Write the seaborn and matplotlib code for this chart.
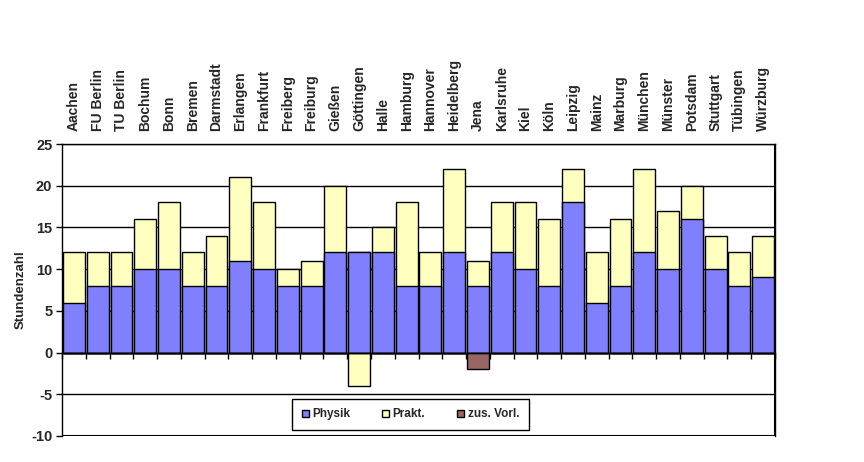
import pandas as pd
import matplotlib.pyplot as plt
import seaborn as sns
from matplotlib.patches import Patch

# data
unis = ["Aachen", "FU Berlin", "TU Berlin", "Bochum", "Bonn", "Bremen", "Darmstadt",
        "Erlangen", "Frankfurt", "Freiberg", "Freiburg", "Gießen", "Göttingen", "Halle",
        "Hamburg", "Hannover", "Heidelberg", "Jena", "Karlsruhe", "Kiel", "Köln",
        "Leipzig", "Mainz", "Marburg", "München", "Münster", "Potsdam", "Stuttgart",
        "Tübingen", "Würzburg"]
physik = [6, 8, 8, 10, 10, 8, 8, 11, 10, 8, 8, 12, 12, 12, 8, 8, 12, 8, 12, 10, 8,
          18, 6, 8, 12, 10, 16, 10, 8, 9]
prakt = [6, 4, 4, 6, 8, 4, 6, 10, 8, 2, 3, 8, -4, 3, 10, 4, 10, 3, 6, 8, 8,
         4, 6, 8, 10, 7, 4, 4, 4, 5]
zus_vorl = [0, 0, 0, 0, 0, 0, 0, 0, 0, 0, 0, 0, 0, 0, 0, 0, 0, -2, 0, 0, 0,
            0, 0, 0, 0, 0, 0, 0, 0, 0]

c_physik = "#8080FF"
c_prakt = "#FFFFC0"
c_zus = "#996666"

df = pd.DataFrame({"uni": unis, "physik": physik, "prakt": prakt, "zus": zus_vorl})
df["pos_top"] = df["physik"] + df["prakt"].clip(lower=0)
df["neg_prakt"] = df["prakt"].clip(upper=0)

sns.set_style("white")
plt.rcParams["font.family"] = ["Liberation Sans", "DejaVu Sans"]
plt.rcParams["font.weight"] = "bold"
plt.rcParams["axes.unicode_minus"] = False

fig = plt.figure(figsize=(8.64, 4.62), dpi=100)
ax = fig.add_axes([0.0718, 0.0563, 0.8252, 0.6320])

bar_kw = dict(width=0.92, edgecolor="black", linewidth=1.0, order=unis, ax=ax,
              saturation=1)
sns.barplot(data=df, x="uni", y="pos_top", color=c_prakt, **bar_kw)
sns.barplot(data=df, x="uni", y="physik", color=c_physik, **bar_kw)
sns.barplot(data=df, x="uni", y="neg_prakt", color=c_prakt, **bar_kw)
sns.barplot(data=df, x="uni", y="zus", color=c_zus, **bar_kw)

n = len(unis)
ax.set_xlim(-0.5, n - 0.5)
ax.set_ylim(-10, 25)
ax.set_yticks(range(-10, 26, 5))
ax.yaxis.grid(True, color="black", linewidth=1.0)
ax.set_axisbelow(True)

ax.set_xticks(range(n))
ax.set_xticklabels(unis, fontsize=9.5, fontweight="bold")
ax.tick_params(axis="x", which="major", top=False, bottom=False,
               labeltop=True, labelbottom=False, labelrotation=90, pad=6)
ax.set_xticks([i - 0.5 for i in range(n + 1)], minor=True)
ax.tick_params(axis="x", which="minor", bottom=True, length=4, width=1,
               direction="out", color="black")
ax.tick_params(axis="y", left=True, length=4, width=1, direction="out",
               color="black", labelsize=10.5, pad=3)
for lab in ax.get_yticklabels():
    lab.set_fontweight("bold")

ax.spines["bottom"].set_position(("data", 0))
for s in ax.spines.values():
    s.set_visible(True)
    s.set_color("black")
    s.set_linewidth(1.0)
ax.axhline(-10, color="black", linewidth=1.5)
ax.axvline(n - 0.5, color="black", linewidth=1.5)

ax.set_xlabel("")
ax.set_ylabel("Stundenzahl", fontsize=9.5, fontweight="bold", labelpad=3)

handles = [Patch(facecolor=c_physik, edgecolor="black", label="Physik"),
           Patch(facecolor=c_prakt, edgecolor="black", label="Prakt."),
           Patch(facecolor=c_zus, edgecolor="black", label="zus. Vorl.")]
leg = fig.legend(handles=handles, loc="center", bbox_to_anchor=(0.475, 0.103),
                 ncol=3, fancybox=False, edgecolor="black", framealpha=1,
                 handlelength=0.6, handleheight=0.6, handletextpad=0.3,
                 columnspacing=2.7, borderpad=0.8, prop={"size": 8.5, "weight": "bold"})
leg.get_frame().set_linewidth(1.0)

fig.savefig("out.png", dpi=100)
